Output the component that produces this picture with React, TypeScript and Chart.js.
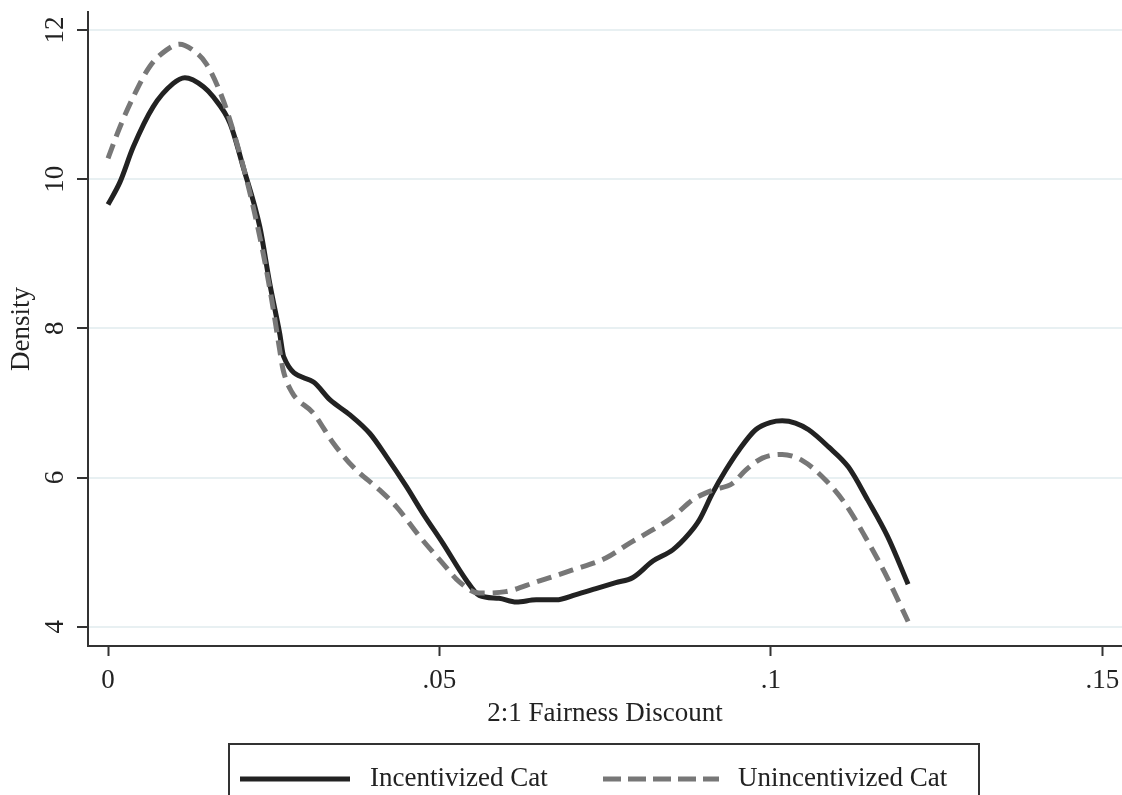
import React, { useEffect, useRef } from "react";
import { Chart, registerables } from "chart.js";

Chart.register(...registerables);

// ---- Data ----
const incentivizedX = [
  0, 0.0018, 0.0038, 0.0068, 0.0098, 0.0116, 0.0144, 0.0159, 0.0184, 0.0204,
  0.0229, 0.0244, 0.0259, 0.0265, 0.031, 0.0335, 0.0365, 0.0395, 0.042, 0.045,
  0.0475, 0.0505, 0.054, 0.056, 0.059, 0.0616, 0.0646, 0.0676, 0.0706, 0.0736,
  0.0766, 0.0792, 0.0822, 0.0852, 0.0877, 0.0892, 0.0912, 0.0932, 0.0952,
  0.0977, 0.1, 0.1017, 0.1037, 0.1057, 0.1087, 0.1117, 0.1146, 0.1176, 0.1207,
];
const incentivizedY = [
  9.66, 9.96, 10.43, 10.97, 11.28, 11.36, 11.24, 11.1, 10.75, 10.16,
  9.36, 8.6, 7.93, 7.62, 7.28, 7.04, 6.84, 6.59, 6.28, 5.88,
  5.52, 5.12, 4.63, 4.42, 4.38, 4.33, 4.36, 4.36, 4.43, 4.51,
  4.59, 4.66, 4.88, 5.03, 5.25, 5.43, 5.79, 6.1, 6.37,
  6.64, 6.74, 6.76, 6.73, 6.64, 6.41, 6.14, 5.7, 5.21, 4.57,
];
const unincentivizedX = [
  0, 0.0018, 0.0038, 0.0063, 0.0088, 0.0108, 0.0128, 0.0148, 0.0168, 0.0184,
  0.0204, 0.0219, 0.0234, 0.0247, 0.0259, 0.0264, 0.0277, 0.031, 0.034, 0.037,
  0.041, 0.0435, 0.047, 0.0505, 0.053, 0.056, 0.06, 0.0646, 0.0701, 0.0751,
  0.0787, 0.0822, 0.0852, 0.0882, 0.0912, 0.0942, 0.0962, 0.0987, 0.1017,
  0.1047, 0.1082, 0.1112, 0.1142, 0.1172, 0.1207,
];
const unincentivizedY = [
  10.28, 10.7, 11.1, 11.51, 11.73, 11.81, 11.73, 11.55, 11.19, 10.79,
  10.17, 9.63, 9.01, 8.38, 7.71, 7.45, 7.15, 6.86, 6.46, 6.14,
  5.83, 5.61, 5.21, 4.85, 4.6, 4.45, 4.47, 4.6, 4.76, 4.92,
  5.12, 5.3, 5.47, 5.7, 5.83, 5.92, 6.1, 6.26, 6.31,
  6.23, 5.97, 5.65, 5.21, 4.72, 4.07,
];
const seriesNames = ["Incentivized Cat", "Unincentivized Cat"];
const xTickValues = [0, 0.05, 0.1, 0.15];
const xTickLabels = ["0", ".05", ".1", ".15"];
const yTickValues = [4, 6, 8, 10, 12];
const yTickLabels = ["4", "6", "8", "10", "12"];
const xTitle = "2:1 Fairness Discount";
const yTitle = "Density";

const FONT = "'Liberation Serif', 'Times New Roman', serif";

function toPoints(xs: number[], ys: number[]) {
  return xs.map((x, i) => ({ x, y: ys[i] }));
}

export default function App() {
  const canvasRef = useRef<HTMLCanvasElement | null>(null);

  useEffect(() => {
    const canvas = canvasRef.current;
    if (!canvas) return;
    const chart = new Chart(canvas, {
      type: "line",
      data: {
        datasets: [
          {
            label: seriesNames[0],
            data: toPoints(incentivizedX, incentivizedY),
            borderColor: "#222222",
            borderWidth: 5,
            pointRadius: 0,
            cubicInterpolationMode: "monotone",
            order: 2,
          },
          {
            label: seriesNames[1],
            data: toPoints(unincentivizedX, unincentivizedY),
            borderColor: "#777777",
            borderWidth: 5,
            borderDash: [15, 8],
            borderCapStyle: "butt",
            pointRadius: 0,
            cubicInterpolationMode: "monotone",
            order: 1,
          },
        ],
      },
      options: {
        responsive: false,
        animation: false,
        devicePixelRatio: 1,
        layout: { padding: { top: 12, right: 0, bottom: 65, left: 0 } },
        plugins: { legend: { display: false }, tooltip: { enabled: false } },
        font: { family: FONT, size: 27 },
        scales: {
          x: {
            type: "linear",
            min: -0.00302,
            max: 0.15297,
            afterBuildTicks: (s: any) => {
              s.ticks = xTickValues.map((v) => ({ value: v }));
            },
            afterFit: (s: any) => {
              s.height = 84;
              s.paddingLeft = 0;
              s.paddingRight = 0;
            },
            ticks: {
              autoSkip: false,
              maxRotation: 0,
              minRotation: 0,
              padding: 9,
              color: "#222",
              font: { family: FONT, size: 27 },
              callback: (v: any) => {
                const i = xTickValues.findIndex((t) => Math.abs(t - Number(v)) < 1e-9);
                return i >= 0 ? xTickLabels[i] : "";
              },
            },
            grid: {
              drawOnChartArea: false,
              drawTicks: true,
              tickLength: 10,
              tickColor: "#333",
              tickWidth: 2,
            },
            border: { display: true, color: "#333", width: 2 },
            title: {
              display: true,
              text: xTitle,
              color: "#222",
              font: { family: FONT, size: 27 },
              padding: { top: 0, bottom: 0 },
            },
          },
          y: {
            type: "linear",
            min: 3.741,
            max: 12.241,
            afterBuildTicks: (s: any) => {
              s.ticks = yTickValues.map((v) => ({ value: v }));
            },
            afterFit: (s: any) => {
              s.width = 88;
              s.paddingTop = 0;
              s.paddingBottom = 0;
            },
            ticks: {
              autoSkip: false,
              minRotation: 90,
              maxRotation: 90,
              crossAlign: "center",
              padding: 8,
              color: "#222",
              font: { family: FONT, size: 27 },
              callback: (v: any) => {
                const i = yTickValues.findIndex((t) => Math.abs(t - Number(v)) < 1e-9);
                return i >= 0 ? yTickLabels[i] : "";
              },
            },
            grid: {
              drawOnChartArea: true,
              drawTicks: true,
              color: "#e8f0f2",
              lineWidth: 2,
              tickLength: 11,
              tickColor: "#333",
              tickWidth: 2,
            },
            border: { display: true, color: "#333", width: 2 },
            title: {
              display: true,
              text: yTitle,
              color: "#222",
              font: { family: FONT, size: 27 },
              padding: { top: 6, bottom: 0 },
            },
          },
        },
      } as any,
    });
    return () => chart.destroy();
  }, []);

  const textStyle: React.CSSProperties = {
    position: "absolute",
    fontFamily: FONT,
    fontSize: 27,
    lineHeight: "32px",
    color: "#222",
    whiteSpace: "nowrap",
  };

  return (
    <div
      style={{
        position: "absolute",
        left: 0,
        top: 0,
        width: 1122,
        height: 795,
        overflow: "hidden",
        background: "#fff",
      }}
    >
      <canvas ref={canvasRef} width={1122} height={795} style={{ display: "block", width: 1122, height: 795 }} />
      <div
        style={{
          position: "absolute",
          left: 228,
          top: 743,
          width: 752,
          height: 80,
          border: "2px solid #333",
          boxSizing: "border-box",
        }}
      />
      <svg
        style={{ position: "absolute", left: 0, top: 0, pointerEvents: "none" }}
        width={1122}
        height={795}
      >
        <line x1={240} y1={779} x2={350} y2={779} stroke="#222" strokeWidth={5} />
        <line
          x1={603}
          y1={779}
          x2={719}
          y2={779}
          stroke="#777"
          strokeWidth={5}
          strokeDasharray="18 7"
        />
      </svg>
      <div style={{ ...textStyle, left: 370, top: 761 }}>{seriesNames[0]}</div>
      <div style={{ ...textStyle, left: 738, top: 761 }}>{seriesNames[1]}</div>
    </div>
  );
}
